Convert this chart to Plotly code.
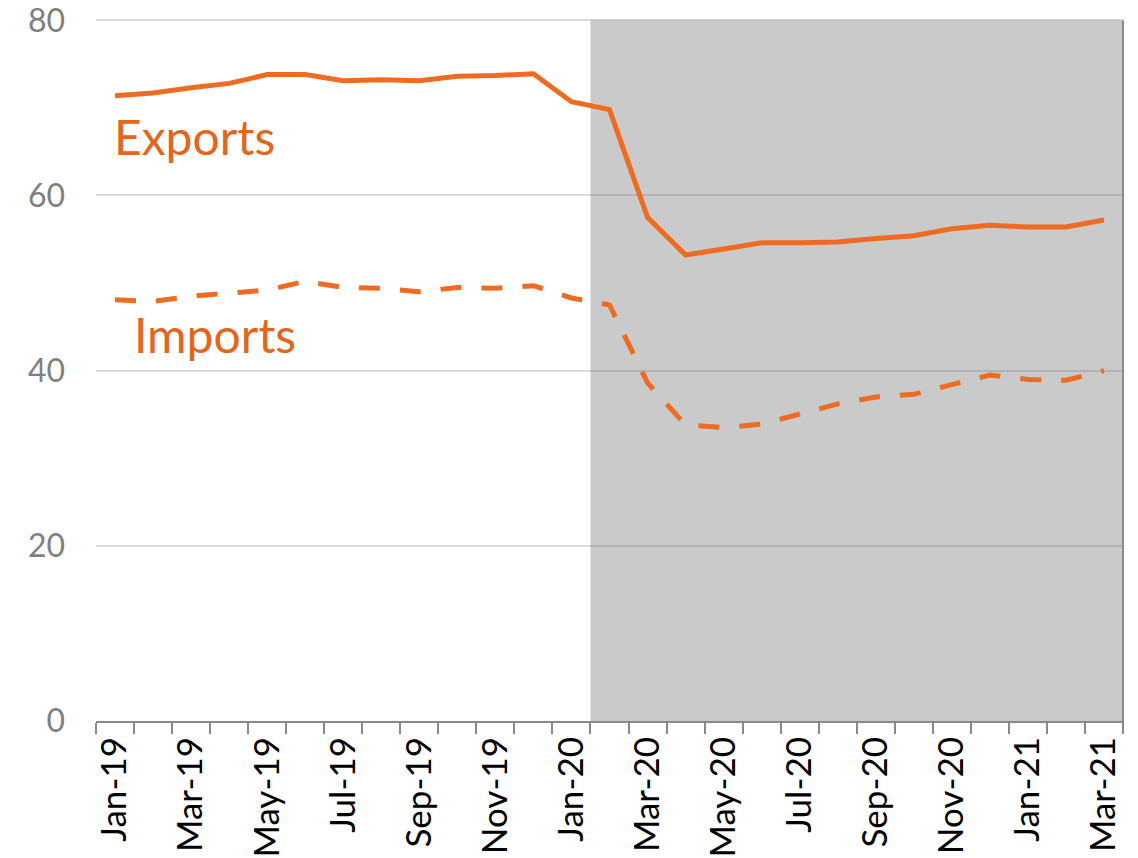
import plotly.graph_objects as go

months = ["Jan-19", "Feb-19", "Mar-19", "Apr-19", "May-19", "Jun-19", "Jul-19", "Aug-19",
          "Sep-19", "Oct-19", "Nov-19", "Dec-19", "Jan-20", "Feb-20", "Mar-20", "Apr-20",
          "May-20", "Jun-20", "Jul-20", "Aug-20", "Sep-20", "Oct-20", "Nov-20", "Dec-20",
          "Jan-21", "Feb-21", "Mar-21"]

exports = [71.4, 71.7, 72.3, 72.8, 73.8, 73.8, 73.1, 73.2, 73.1, 73.6, 73.7, 73.9,
           70.7, 69.8, 57.5, 53.2, 53.9, 54.6, 54.6, 54.7, 55.1, 55.4, 56.2, 56.6,
           56.4, 56.4, 57.2]

imports = [48.1, 47.9, 48.5, 48.8, 49.2, 50.2, 49.5, 49.4, 49.0, 49.5, 49.4, 49.7,
           48.3, 47.5, 38.6, 33.8, 33.5, 33.9, 35.0, 36.2, 37.0, 37.3, 38.4, 39.5,
           39.0, 38.9, 40.0]

tick_labels = [m if i % 2 == 0 else "" for i, m in enumerate(months)]
y_ticks = [0, 20, 40, 60, 80]

LINE = "#EE6C22"
TEXT = "#E2661B"
FONT = "Lato"

fig = go.Figure()
fig.add_trace(go.Scatter(x=months, y=exports, mode="lines", name="Exports",
                         line=dict(color=LINE, width=5)))
fig.add_trace(go.Scatter(x=months, y=imports, mode="lines", name="Imports",
                         line=dict(color=LINE, width=5, dash="21px,20px")))

# shaded period from Feb-20 onwards
fig.add_shape(type="rect", xref="x", yref="y", x0=12.5, x1=26.5, y0=0, y1=80,
              fillcolor="rgba(115,115,115,0.38)", line=dict(width=0), layer="between")
# right edge line
fig.add_shape(type="line", xref="paper", yref="paper", x0=1, x1=1, y0=-0.017, y1=0.998,
              line=dict(color="#898989", width=2), layer="above")

fig.add_annotation(x=0, y=66.7, xref="x", yref="y", text="Exports", showarrow=False,
                   xanchor="left", yanchor="middle", xshift=-3,
                   font=dict(family=FONT, size=48, color=TEXT))
fig.add_annotation(x=0.6, y=44.1, xref="x", yref="y", text="Imports", showarrow=False,
                   xanchor="left", yanchor="middle", xshift=-6,
                   font=dict(family=FONT, size=48, color=TEXT))

fig.update_layout(
    width=1138, height=858,
    margin=dict(l=96, r=15, t=19, b=137, autoexpand=False),
    paper_bgcolor="white", plot_bgcolor="white",
    showlegend=False,
    font=dict(family=FONT),
)
fig.update_xaxes(
    type="category", automargin=False,
    tickmode="array", tickvals=months, ticktext=tick_labels,
    tickson="boundaries", ticks="outside", ticklen=11, tickwidth=2, tickcolor="#898989",
    tickangle=-90, tickfont=dict(family=FONT, size=35, color="black"),
    showline=True, linecolor="#898989", linewidth=2,
    showgrid=False, zeroline=False,
    range=[-0.5, 26.5],
)
fig.update_yaxes(
    range=[0, 80.15], tickmode="array", tickvals=y_ticks, automargin=False,
    tickfont=dict(family=FONT, size=32, color="#7F7F7F"),
    ticklabeloverflow="allow",
    showgrid=True, gridcolor="#D9D9D9", gridwidth=2,
    zeroline=False, showline=False, ticks="",
    ticklabelstandoff=30,
)

# remove the default 8px page margin so the figure fills the window exactly
fig.write_html("out.html",
               config={"displayModeBar": False, "staticPlot": True},
               post_script="document.body.style.margin='0';document.body.style.overflow='hidden';")
